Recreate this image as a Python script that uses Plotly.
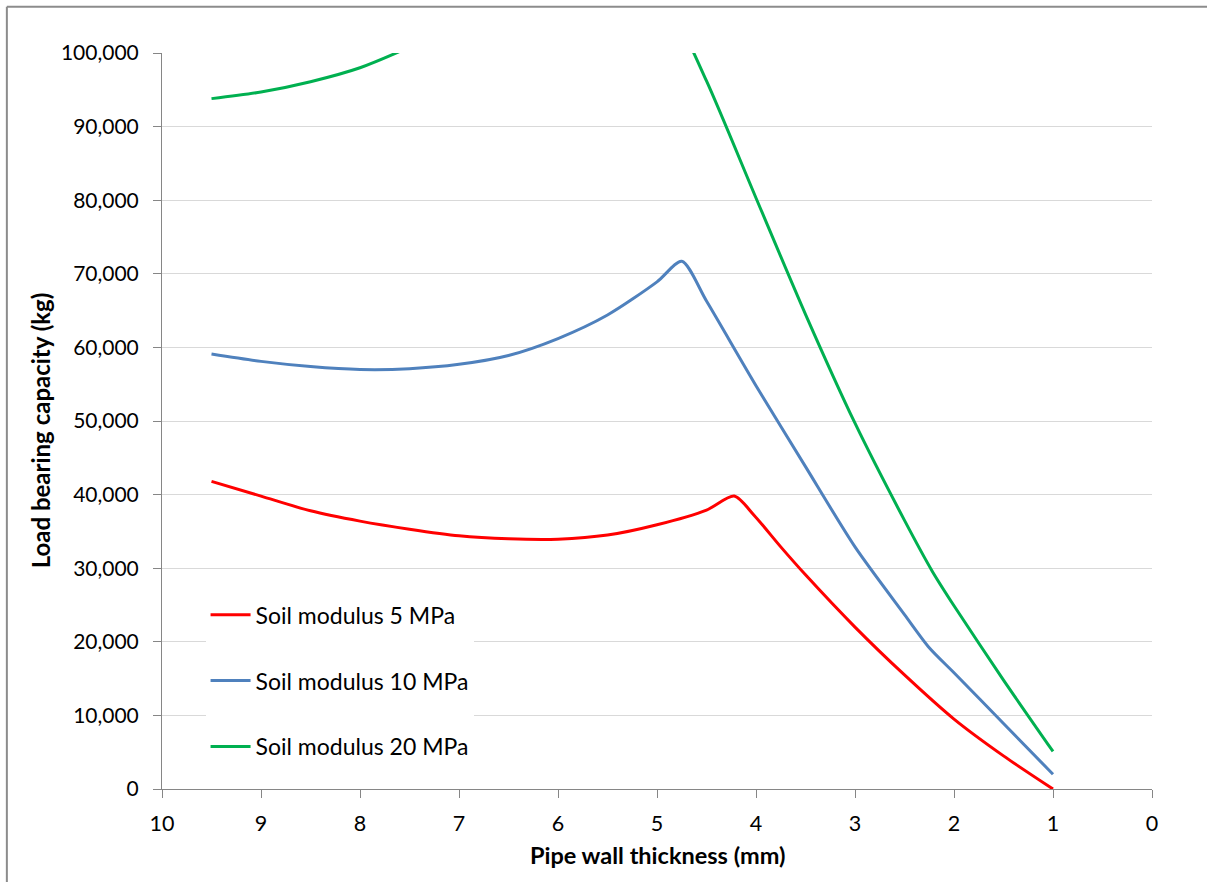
import plotly.graph_objects as go

# ---- data ----
x_5mpa = [9.5, 9.0, 8.5, 8.0, 7.5, 7.0, 6.5, 6.0, 5.5, 5.0, 4.5, 4.22, 4.02, 3.75, 3.5, 3.0, 2.5, 2.0, 1.5, 1.0]
y_5mpa = [41800, 39800, 37800, 36400, 35300, 34400, 34000, 33950, 34500, 35900, 37900, 39800, 37200,
          32900, 29100, 22000, 15500, 9500, 4500, 0]

x_10mpa = [9.5, 9.0, 8.5, 8.0, 7.5, 7.0, 6.5, 6.0, 5.5, 5.0, 4.75, 4.5, 4.0, 3.5, 3.0, 2.5, 2.25, 2.0, 1.5, 1.0]
y_10mpa = [59100, 58100, 57400, 57000, 57100, 57700, 58900, 61200, 64400, 68900, 71700, 66300, 54800,
           43800, 32900, 23700, 19200, 15800, 8900, 2000]

x_20mpa = [9.5, 9.0, 8.5, 8.0, 7.5, 7.0, 6.5, 6.0, 5.5, 5.0, 4.5, 4.0, 3.5, 3.0, 2.5, 2.22, 2.0, 1.5, 1.0]
y_20mpa = [93800, 94700, 96100, 98000, 100800, 104000, 108000, 112500, 118000, 110000, 96200, 80300,
           64500, 49700, 36500, 29600, 24900, 14800, 5100]

series_names = ["Soil modulus 5 MPa", "Soil modulus 10 MPa", "Soil modulus 20 MPa"]
series_colors = ["#FF0000", "#4F81BD", "#00B050"]

x_tickvals = [10, 9, 8, 7, 6, 5, 4, 3, 2, 1, 0]
y_tickvals = [0, 10000, 20000, 30000, 40000, 50000, 60000, 70000, 80000, 90000, 100000]

x_title = "Pipe wall thickness (mm)"
y_title = "Load bearing capacity (kg)"

FONT = "Lato, 'Open Sans', sans-serif"

fig = go.Figure()
for i, (xs, ys) in enumerate([(x_5mpa, y_5mpa), (x_10mpa, y_10mpa), (x_20mpa, y_20mpa)]):
    fig.add_trace(go.Scatter(
        x=xs, y=ys, mode="lines", name=series_names[i],
        line=dict(color=series_colors[i], width=3, shape="spline", smoothing=0.75),
        legendgroup=f"g{i}",
    ))

fig.update_layout(
    width=1207, height=882,
    margin=dict(l=162, r=55, t=53, b=93),
    paper_bgcolor="white", plot_bgcolor="white",
    font=dict(family=FONT, size=21, color="#000000"),
    showlegend=True,
    legend=dict(
        x=0.044, y=0.266, xanchor="left", yanchor="top",
        bgcolor="white", borderwidth=0,
        font=dict(family=FONT, size=23, color="#000000"),
        tracegroupgap=33, traceorder="grouped",
        itemwidth=40,
    ),
    xaxis=dict(
        range=[10, 0], tickvals=x_tickvals, showgrid=False, zeroline=False,
        showline=True, linecolor="#868686", linewidth=1,
        ticks="outside", ticklen=8, tickcolor="#868686",
        tickfont=dict(family=FONT, size=21.5), ticklabelstandoff=7,
    ),
    yaxis=dict(
        range=[0, 100000], tickvals=y_tickvals, tickformat=",d",
        showgrid=True, gridcolor="#D9D9D9", gridwidth=1, zeroline=False,
        showline=True, linecolor="#868686", linewidth=1,
        ticks="outside", ticklen=8, tickcolor="#868686",
        tickfont=dict(family=FONT, size=21), ticklabelstandoff=10,
    ),
    annotations=[
        dict(text=f"<b>{x_title}</b>", xref="paper", yref="paper", x=0.5, y=-0.0893,
             xanchor="center", yanchor="middle", showarrow=False,
             font=dict(family=FONT, size=23.5, color="#000000")),
        dict(text=f"<b>{y_title}</b>", xref="paper", yref="paper", x=-0.1226, y=0.4868,
             xanchor="center", yanchor="middle", showarrow=False, textangle=-90,
             font=dict(family=FONT, size=24, color="#000000")),
    ],
    shapes=[
        dict(type="line", xref="paper", yref="paper", x0=-0.1567, x1=1.06, y0=1.0629, y1=1.0629,
             line=dict(color="#8C8C8C", width=2)),
        dict(type="line", xref="paper", yref="paper", x0=-0.1567, x1=-0.1567, y0=1.0629, y1=-0.13,
             line=dict(color="#8C8C8C", width=2)),
    ],
)

fig.write_html("out.html")
